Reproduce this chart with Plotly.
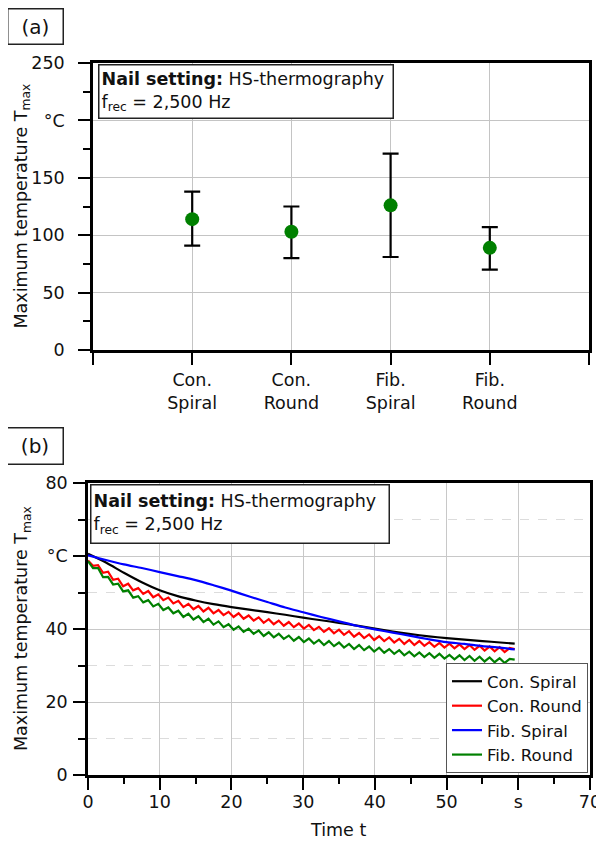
import plotly.graph_objects as go

# page body has an 8px margin: figure occupies page pixels 8..604 x 8..841
OFF = 8
W, H = 604 - OFF, 841 - OFF

# ---------------- data: panel (a) ----------------
categories = ["Con.<br>Spiral", "Con.<br>Round", "Fib.<br>Spiral", "Fib.<br>Round"]
tmax_mean = [114, 103, 126, 89]
tmax_upper = [138, 125, 171, 107]
tmax_lower = [91, 80, 81, 70]

# ---------------- data: panel (b) ----------------
t_smooth = [0, 2.5, 5, 7.5, 10, 12.5, 15, 17.5, 20, 22.5, 25, 27.5, 30, 32.5, 35,
            37.5, 40, 42.5, 45, 47.5, 50, 52.5, 55, 57.5, 59.5]
con_spiral = [60.6, 58.2, 55.4, 52.8, 50.6, 49.0, 47.8, 46.8, 46.0, 45.3, 44.6, 43.9, 43.1,
              42.4, 41.7, 40.9, 40.1, 39.3, 38.6, 38.0, 37.5, 37.1, 36.7, 36.3, 36.0]
fib_spiral = [60.2, 58.9, 57.7, 56.7, 55.6, 54.5, 53.4, 52.0, 50.5, 48.9, 47.4, 45.9, 44.6,
              43.3, 42.1, 40.9, 39.9, 39.0, 38.1, 37.2, 36.4, 35.9, 35.3, 34.9, 34.4]

t_zig = [0.0, 0.7, 1.4, 2.1, 2.8, 3.5, 4.2, 4.9, 5.6, 6.3, 7.0, 7.7, 8.4, 9.1, 9.8,
         10.5, 11.2, 11.9, 12.6, 13.3, 14.0, 14.7, 15.4, 16.1, 16.8, 17.5, 18.2, 18.9,
         19.6, 20.3, 21.0, 21.7, 22.4, 23.1, 23.8, 24.5, 25.2, 25.9, 26.6, 27.3, 28.0,
         28.7, 29.4, 30.1, 30.8, 31.5, 32.2, 32.9, 33.6, 34.3, 35.0, 35.7, 36.4, 37.1,
         37.8, 38.5, 39.2, 39.9, 40.6, 41.3, 42.0, 42.7, 43.4, 44.1, 44.8, 45.5, 46.2,
         46.9, 47.6, 48.3, 49.0, 49.7, 50.4, 51.1, 51.8, 52.5, 53.2, 53.9, 54.6, 55.3,
         56.0, 56.7, 57.4, 58.1, 58.8, 59.5]
con_round = [58.8, 57.3, 57.5, 55.4, 55.7, 53.5, 53.8, 51.7, 52.4, 50.6, 51.2, 49.6, 50.4,
             48.7, 49.5, 47.9, 48.6, 47.0, 47.7, 46.0, 46.9, 45.4, 46.3, 44.8, 45.8, 44.3,
             45.2, 43.8, 44.7, 43.3, 44.3, 42.8, 43.7, 42.3, 43.2, 41.7, 42.7, 41.3, 42.3,
             40.9, 41.9, 40.5, 41.5, 40.1, 41.1, 39.7, 40.6, 39.2, 40.2, 38.8, 39.8, 38.4,
             39.4, 37.9, 38.9, 37.5, 38.5, 37.0, 38.0, 36.7, 37.7, 36.3, 37.3, 35.9, 37.0,
             35.6, 36.7, 35.4, 36.4, 35.1, 36.2, 34.9, 36.0, 34.7, 35.8, 34.5, 35.6, 34.3,
             35.4, 34.1, 35.2, 33.9, 35.0, 33.7, 34.8, 34.5]
fib_round = [58.6, 56.7, 56.7, 54.2, 54.3, 52.2, 52.4, 50.3, 50.6, 48.6, 49.0, 47.3, 47.9,
             46.2, 46.9, 45.2, 45.9, 44.3, 45.0, 43.3, 44.2, 42.6, 43.5, 41.9, 42.8, 41.2,
             42.1, 40.5, 41.3, 39.8, 40.7, 39.2, 40.1, 38.7, 39.6, 38.1, 39.1, 37.7, 38.7,
             37.3, 38.2, 36.8, 37.8, 36.4, 37.4, 36.0, 37.0, 35.6, 36.7, 35.3, 36.3, 34.9,
             35.9, 34.5, 35.6, 34.2, 35.2, 33.8, 34.9, 33.5, 34.5, 33.2, 34.2, 32.8, 33.8,
             32.5, 33.6, 32.3, 33.4, 32.1, 33.2, 31.9, 32.9, 31.7, 32.8, 31.5, 32.6, 31.3,
             32.4, 31.1, 32.2, 30.9, 32.0, 30.7, 31.8, 31.6]

series_names = ["Con. Spiral", "Con. Round", "Fib. Spiral", "Fib. Round"]
series_colors = ["#000000", "#ff0000", "#0000ff", "#008000"]

a_yticks = [0, 50, 100, 150, 200, 250]
a_yticktext = ["0", "50", "100", "150", "°C", "250"]
b_xticks = [0, 10, 20, 30, 40, 50, 60, 70]
b_xticktext = ["0", "10", "20", "30", "40", "50", "s", "70"]
b_yticks = [0, 20, 40, 60, 80]
b_yticktext = ["0", "20", "40", "°C", "80"]

FONT = "DejaVu Sans"
FS = 17.5


def px_x(x):
    return (x - OFF) / W


def px_y(y):
    return 1 - (y - OFF) / H


fig = go.Figure()

# panel (a)
xpos = [i + 1 for i in range(len(categories))]
fig.add_trace(go.Scatter(
    x=xpos, y=tmax_mean, mode="markers",
    marker=dict(color="#008000", size=14),
    error_y=dict(type="data", symmetric=False,
                 array=[u - m for u, m in zip(tmax_upper, tmax_mean)],
                 arrayminus=[m - l for m, l in zip(tmax_mean, tmax_lower)],
                 color="black", thickness=2.2, width=8),
    xaxis="x", yaxis="y", showlegend=False, cliponaxis=False,
))

# panel (b)
b_data = [(t_smooth, con_spiral, "spline"), (t_zig, con_round, "linear"),
          (t_smooth, fib_spiral, "spline"), (t_zig, fib_round, "linear")]
for name, col, (tx, ty, shape) in zip(series_names, series_colors, b_data):
    fig.add_trace(go.Scatter(
        x=tx, y=ty, mode="lines", name=name,
        line=dict(color=col, width=2.2, shape=shape, smoothing=0.8),
        xaxis="x2", yaxis="y2",
    ))

axis_common = dict(
    showline=True, linecolor="black", linewidth=2.5, mirror=True,
    ticks="outside", ticklen=12, tickwidth=2, tickcolor="black",
    tickfont=dict(family=FONT, size=FS, color="#111"),
    zeroline=False, automargin=False,
)

fig.update_layout(
    width=W, height=H, autosize=False,
    margin=dict(l=0, r=0, t=0, b=0),
    paper_bgcolor="white", plot_bgcolor="white",
    font=dict(family=FONT, size=FS, color="#111"),
    xaxis=dict(domain=[px_x(93), px_x(589)], anchor="y", range=[0, 5],
               tickvals=[0] + xpos + [5], ticktext=[""] + categories + [""],
               showgrid=True, gridcolor="#c4c4c4", gridwidth=1,
               ticklabelstandoff=0, **axis_common),
    yaxis=dict(domain=[px_y(350), px_y(63)], anchor="x", range=[0, 250],
               tickvals=a_yticks, ticktext=a_yticktext,
               showgrid=True, gridcolor="#c4c4c4", gridwidth=1,
               minor=dict(dtick=25, ticks="outside", ticklen=7, tickwidth=2,
                          tickcolor="black", showgrid=False),
               ticklabelstandoff=10, **axis_common),
    xaxis2=dict(domain=[px_x(88), px_x(590)], anchor="y2", range=[0, 70],
                tickvals=b_xticks, ticktext=b_xticktext,
                showgrid=True, gridcolor="#c8c8c8", gridwidth=1.3,
                minor=dict(dtick=5, ticks="outside", ticklen=6, tickwidth=2,
                           tickcolor="black", showgrid=False),
                ticklabelstandoff=-3, **axis_common),
    yaxis2=dict(domain=[px_y(775), px_y(483)], anchor="x2", range=[0, 80],
                tickvals=b_yticks, ticktext=b_yticktext,
                showgrid=True, gridcolor="#c8c8c8", gridwidth=1.3,
                minor=dict(dtick=10, ticks="outside", ticklen=7, tickwidth=2,
                           tickcolor="black", showgrid=True, gridcolor="#dcdcdc",
                           griddash="dash", gridwidth=1),
                ticklabelstandoff=2, **axis_common),
    legend=dict(x=px_x(588), y=px_y(773), xanchor="right", yanchor="bottom",
                bgcolor="white", bordercolor="#555", borderwidth=1,
                font=dict(family=FONT, size=16.5, color="#111"),
                itemwidth=30, tracegroupgap=0),
)

info_text = "<b>Nail setting:</b> HS-thermography<br>f<sub>rec</sub> = 2,500 Hz"
annos = [
    dict(text="(a)", x=px_x(35), y=px_y(26), width=52, height=32),
    dict(text="(b)", x=px_x(35), y=px_y(445.5), width=53, height=33),
]
for a in annos:
    fig.add_annotation(xref="paper", yref="paper", showarrow=False,
                       xanchor="center", yanchor="middle",
                       bordercolor="#222", borderwidth=1.5, borderpad=1,
                       bgcolor="white", font=dict(family=FONT, size=20, color="#111"),
                       **a)

for left, top, w, h in [(98, 64, 289, 48), (90, 484, 293, 53)]:
    fig.add_annotation(xref="paper", yref="paper", showarrow=False,
                       x=px_x(left), y=px_y(top), xanchor="left", yanchor="top",
                       text=info_text, align="left", valign="middle",
                       width=w, height=h, borderpad=2, borderwidth=1.5,
                       bordercolor="#222", bgcolor="white",
                       font=dict(family=FONT, size=FS, color="#111"))

ytitle = "Maximum temperature T<sub>max</sub>"
for yc in [206.5, 629]:
    fig.add_annotation(xref="paper", yref="paper", showarrow=False,
                       x=px_x(22), y=px_y(yc), xanchor="center", yanchor="middle",
                       text=ytitle, textangle=-90,
                       font=dict(family=FONT, size=FS, color="#111"))

fig.add_annotation(xref="paper", yref="paper", showarrow=False,
                   x=px_x(338), y=px_y(830), xanchor="center", yanchor="middle",
                   text="Time t", font=dict(family=FONT, size=FS, color="#111"))

fig.write_html("out.html")
